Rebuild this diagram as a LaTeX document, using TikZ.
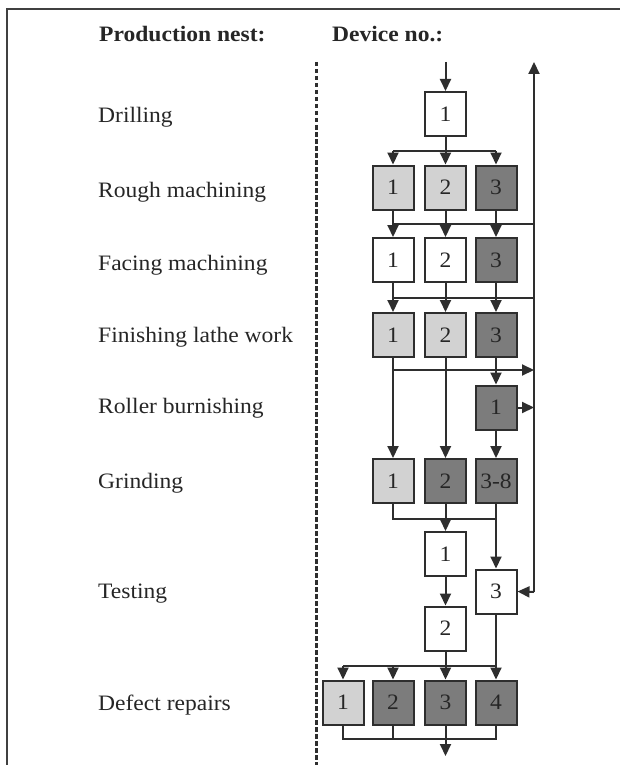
\documentclass[tikz,border=0pt]{standalone}
\usepackage{fontspec}
\setmainfont{Liberation Serif}[FakeStretch=1.07]
\usetikzlibrary{arrows.meta}
\definecolor{lgray}{HTML}{D2D2D2}
\definecolor{dgray}{HTML}{7C7C7C}
\definecolor{ink}{HTML}{2E2E2E}
\tikzset{
  box/.style={draw=ink, line width=2pt, minimum width=41pt, minimum height=44pt, inner sep=0pt, font=\fontsize{22}{24}\selectfont, text=black!85},
  wbox/.style={box, fill=white},
  lbox/.style={box, fill=lgray},
  dbox/.style={box, fill=dgray},
  lab/.style={anchor=base west, inner sep=0pt, font=\fontsize{22}{24}\selectfont, text=black!85},
  head/.style={lab, font=\fontsize{22}{24}\selectfont\bfseries},
  conn/.style={draw=ink, line width=2pt},
  arr/.style={conn, -{Triangle[length=12pt,width=11pt]}},
}
\begin{document}
\begin{tikzpicture}[x=1pt,y=-1pt]
\useasboundingbox (0,0) rectangle (620,765);
\fill[white] (0,0) rectangle (620,765);
% frame
\draw[draw=black!75, line width=2.5pt] (620,9) -- (7,9) -- (7,765);
% dashed separator
\draw[draw=ink, line width=2.2pt, dash pattern=on 4.5pt off 2.5pt] (316.5,62) -- (316.5,765);
% headers
\node[head] (hp) at (99,42) {Production nest:};
\node[head] (hd) at (332,42) {Device no.:};
% labels
\node[lab] (L1) at (98,122) {Drilling};
\node[lab] (L2) at (98,197) {Rough machining};
\node[lab] (L3) at (98,270) {Facing machining};
\node[lab] (L4) at (98,342) {Finishing lathe work};
\node[lab] (L5) at (98,413) {Roller burnishing};
\node[lab] (L6) at (98,488) {Grinding};
\node[lab] (L7) at (98,598) {Testing};
\node[lab] (L8) at (98,710) {Defect repairs};
% boxes
\node[wbox] (d1) at (445.5,114) {1};
\node[lbox] (r1) at (393,187.5) {1};
\node[lbox] (r2) at (445.5,187.5) {2};
\node[dbox] (r3) at (496,187.5) {3};
\node[wbox] (f1) at (393,260) {1};
\node[wbox] (f2) at (445.5,260) {2};
\node[dbox] (f3) at (496,260) {3};
\node[lbox] (l1) at (393,335) {1};
\node[lbox] (l2) at (445.5,335) {2};
\node[dbox] (l3) at (496,335) {3};
\node[dbox] (b1) at (496,407.5) {1};
\node[lbox] (g1) at (393,481) {1};
\node[dbox] (g2) at (445.5,481) {2};
\node[dbox] (g3) at (496,481) {3-8};
\node[wbox] (t1) at (445.5,554) {1};
\node[wbox] (t3) at (496,591.5) {3};
\node[wbox] (t2) at (445.5,628.5) {2};
\node[lbox] (e1) at (343,702.5) {1};
\node[dbox] (e2) at (393,702.5) {2};
\node[dbox] (e3) at (445.5,702.5) {3};
\node[dbox] (e4) at (496,702.5) {4};
% helper coordinates
\coordinate (in) at (445.5,62);
\coordinate (rtop) at (534,62);
\coordinate (rbot) at (534,592);
\coordinate (j1) at (445.5,151);
\coordinate (j2) at (534,224);
\coordinate (j3) at (534,298);
\coordinate (j4) at (534,370);
\coordinate (j5) at (445.5,519);
\coordinate (j6) at (445.5,666);
\coordinate (j7) at (445.5,739);
\coordinate (out) at (445.5,756);
% input
\draw[arr] (in) -- (d1.north);
% drilling -> rough
\draw[conn] (d1.south) -- (j1);
\draw[conn] (r1.north |- j1) -- (r3.north |- j1);
\foreach \n in {r1,r2,r3} \draw[arr] (\n.north |- j1) -- (\n.north);
% rough -> facing
\draw[conn] (r1.south |- j2) -- (j2);
\draw[arr] (r1) -- (f1);
\draw[arr] (r2) -- (f2);
\draw[arr] (r3) -- (f3);
% facing -> lathe
\draw[conn] (f1.south |- j3) -- (j3);
\draw[arr] (f1) -- (l1);
\draw[arr] (f2) -- (l2);
\draw[arr] (f3) -- (l3);
% lathe -> grinding / roller
\draw[arr] (l1.south |- j4) -- (j4);
\draw[arr] (l1) -- (g1);
\draw[arr] (l2) -- (g2);
\draw[arr] (l3) -- (b1);
\draw[arr] (b1.east) -- (rbot |- b1.east);
\draw[arr] (b1) -- (g3);
% return line
\draw[arr] (rbot) -- (rtop);
\draw[arr] (rbot) -- (t3.east);
% grinding -> testing
\draw[conn] (g1.south) -- (g1.south |- j5) -- (g3.south |- j5);
\draw[arr] (g2) -- (t1);
\draw[arr] (g3) -- (t3);
\draw[arr] (t1) -- (t2);
% testing -> defect repairs
\draw[conn] (t2.south) -- (j6);
\draw[conn] (e1.north |- j6) -- (e4.north |- j6);
\foreach \n in {e1,e2,e3} \draw[arr] (\n.north |- j6) -- (\n.north);
\draw[arr] (t3) -- (e4);
% defect repairs -> out
\draw[conn] (e1.south) -- (e1.south |- j7) -- (e4.south |- j7) -- (e4.south);
\draw[conn] (e2.south) -- (e2.south |- j7);
\draw[arr] (e3.south) -- (out);
\end{tikzpicture}
\end{document}
